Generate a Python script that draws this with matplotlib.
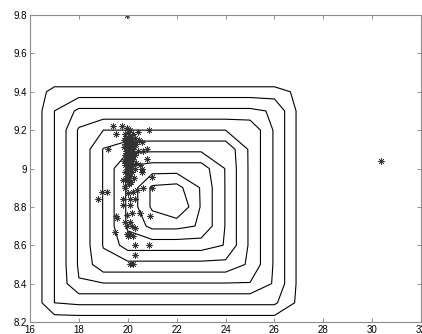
import numpy as np
import matplotlib.pyplot as plt
from matplotlib.ticker import FormatStrFormatter

plt.rcParams['font.family'] = ['Liberation Sans', 'DejaVu Sans']

# 目标函数的网格
x_grid = [16, 17, 18, 19, 20, 21, 22, 23, 24, 25, 26, 27, 28]
y_grid = [8.1, 8.2, 8.3, 8.4, 8.5, 8.6, 8.7, 8.8, 8.9, 9.0, 9.1, 9.2, 9.3, 9.4, 9.5, 9.6]
z_grid = [
    [0.73, 0.73, 0.73, 0.73, 0.73, 0.73, 0.73, 0.73, 0.73, 0.73, 0.73, 0.73, 0.73],
    [0.65, 0.63, 0.63, 0.63, 0.63, 0.63, 0.63, 0.63, 0.63, 0.63, 0.63, 0.63, 0.72],
    [0.65, 0.54, 0.53, 0.53, 0.53, 0.53, 0.53, 0.53, 0.53, 0.53, 0.53, 0.61, 0.72],
    [0.65, 0.54, 0.43, 0.43, 0.43, 0.43, 0.43, 0.43, 0.43, 0.43, 0.49, 0.61, 0.72],
    [0.65, 0.54, 0.42, 0.33, 0.33, 0.33, 0.33, 0.33, 0.33, 0.38, 0.49, 0.61, 0.72],
    [0.65, 0.54, 0.42, 0.31, 0.23, 0.23, 0.23, 0.23, 0.26, 0.38, 0.49, 0.61, 0.72],
    [0.65, 0.54, 0.42, 0.31, 0.19, 0.13, 0.13, 0.15, 0.26, 0.38, 0.49, 0.61, 0.72],
    [0.65, 0.54, 0.42, 0.31, 0.19, 0.08, 0.03, 0.15, 0.26, 0.38, 0.49, 0.61, 0.72],
    [0.65, 0.54, 0.42, 0.31, 0.19, 0.08, 0.07, 0.15, 0.26, 0.38, 0.49, 0.61, 0.72],
    [0.65, 0.54, 0.42, 0.31, 0.19, 0.17, 0.17, 0.17, 0.26, 0.38, 0.49, 0.61, 0.72],
    [0.65, 0.54, 0.42, 0.31, 0.27, 0.27, 0.27, 0.27, 0.27, 0.38, 0.49, 0.61, 0.72],
    [0.65, 0.54, 0.42, 0.37, 0.37, 0.37, 0.37, 0.37, 0.37, 0.38, 0.49, 0.61, 0.72],
    [0.65, 0.54, 0.47, 0.47, 0.47, 0.47, 0.47, 0.47, 0.47, 0.47, 0.49, 0.61, 0.72],
    [0.65, 0.57, 0.57, 0.57, 0.57, 0.57, 0.57, 0.57, 0.57, 0.57, 0.57, 0.61, 0.72],
    [0.67, 0.67, 0.67, 0.67, 0.67, 0.67, 0.67, 0.67, 0.67, 0.67, 0.67, 0.67, 0.72],
    [0.77, 0.77, 0.77, 0.77, 0.77, 0.77, 0.77, 0.77, 0.77, 0.77, 0.77, 0.77, 0.77],
]
levels = [0.09, 0.145, 0.2, 0.257, 0.313, 0.37, 0.427, 0.483, 0.54, 0.596]

# 种群个体位置
pop_x = [19.97, 30.34,
         19.39, 19.76, 20.85, 19.51, 19.21, 20.78, 20.78, 20.60, 20.64, 20.99, 20.62, 20.37, 20.99, 20.58, 20.58,
         19.95, 20.10, 20.02, 19.88, 20.20, 20.05, 19.93, 20.15, 20.30, 19.85, 20.00, 20.10, 20.22, 19.90, 20.05,
         20.35, 19.95, 20.15, 20.25, 19.85, 20.02, 20.12, 19.92, 20.20, 20.40, 19.98, 20.08, 19.88, 20.18, 20.30,
         20.00, 20.10, 19.93, 20.22, 20.05, 19.85, 20.15, 19.98, 20.35, 20.08, 19.90, 20.20, 20.02, 20.12, 19.95,
         20.28, 20.05, 19.88, 20.18, 20.00, 20.10, 19.92, 20.25, 20.03, 19.82, 19.96, 20.15, 20.05, 19.90, 20.50,
         20.45, 20.40,
         19.89, 20.03, 20.23, 20.30, 19.82, 20.10, 19.82, 20.10, 19.96, 20.17, 20.50, 20.92, 19.52, 19.55, 19.90,
         20.10, 19.96, 20.17, 20.30, 19.48, 19.96, 20.10, 20.03, 20.23, 20.30, 20.85, 20.30, 20.10, 20.23,
         18.95, 19.15, 18.80]
pop_y = [9.80, 9.04,
         9.22, 9.22, 9.20, 9.18, 9.10, 9.10, 9.05, 9.14, 9.09, 8.955, 8.90, 8.89, 8.90, 9.00, 8.98,
         9.21, 9.20, 9.19, 9.18, 9.18, 9.17, 9.16, 9.16, 9.16, 9.15, 9.15, 9.14, 9.14, 9.13, 9.13,
         9.13, 9.12, 9.12, 9.11, 9.11, 9.10, 9.10, 9.09, 9.09, 9.09, 9.08, 9.08, 9.07, 9.07, 9.07,
         9.06, 9.06, 9.05, 9.05, 9.04, 9.04, 9.04, 9.03, 9.03, 9.02, 9.02, 9.02, 9.01, 9.00, 9.00,
         9.00, 8.99, 8.98, 8.98, 8.97, 8.96, 8.95, 8.95, 8.94, 8.94, 8.94, 8.93, 8.92, 8.91, 9.02,
         9.15, 9.19,
         8.90, 8.87, 8.88, 8.84, 8.84, 8.84, 8.81, 8.81, 8.76, 8.77, 8.77, 8.75, 8.75, 8.74, 8.72,
         8.72, 8.70, 8.70, 8.69, 8.67, 8.66, 8.66, 8.65, 8.65, 8.60, 8.60, 8.55, 8.50, 8.50,
         8.88, 8.88, 8.84]

fig = plt.figure(figsize=(4.22, 3.34), dpi=100)
ax = fig.add_axes([0.071, 0.036, 0.927, 0.919])

ax.contour(x_grid, y_grid, np.array(z_grid), levels=levels, colors='k', linewidths=0.8)
ax.plot(pop_x, pop_y, linestyle='none', marker=(8, 2, 0), markersize=4.5,
        markeredgecolor='0.2', markeredgewidth=0.5)

ax.set_xlim(16, 32)
ax.set_ylim(8.2, 9.8)
ax.set_xticks(np.arange(16, 33, 2))
ax.set_yticks(np.arange(8.2, 9.81, 0.2))
ax.yaxis.set_major_formatter(FormatStrFormatter('%g'))
ax.tick_params(direction='in', top=True, right=True, length=3, width=0.6,
               color='0.5', labelsize=7, pad=2)
for s in ax.spines.values():
    s.set_color('0.55')
    s.set_linewidth(0.8)

plt.savefig('out.png', dpi=100)
